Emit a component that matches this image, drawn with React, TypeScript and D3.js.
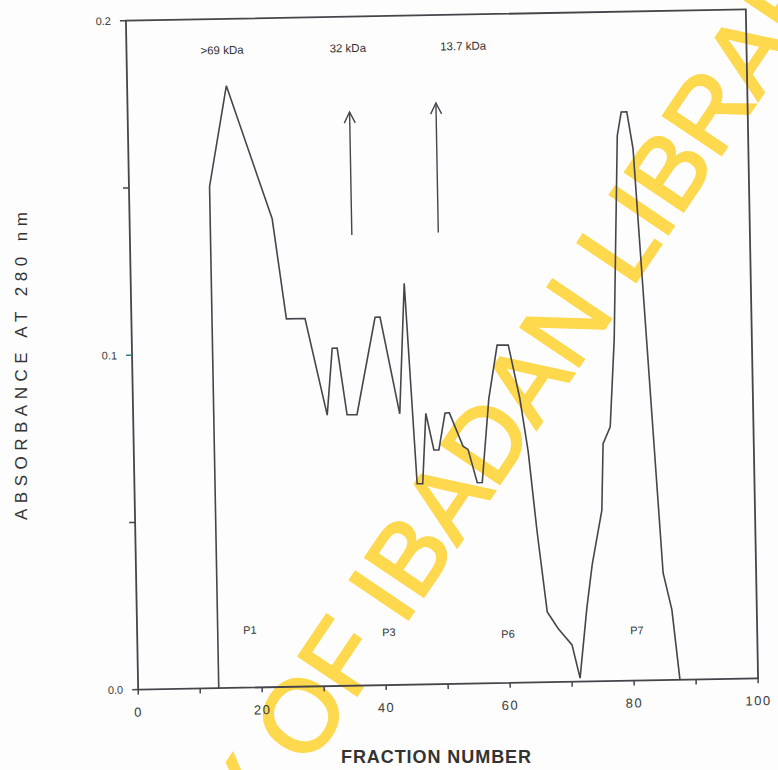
import React from "react";
import * as d3 from "d3";

// Elution profile (fraction number vs absorbance at 280 nm)
const fractions = [13, 13, 16, 23, 25, 28, 31.3, 32.3, 33.1, 34.5, 36.1, 39.3, 40.1, 43, 44.1, 45.6, 46.5, 47.2, 48.4, 49.2, 50.3, 51, 53.1, 53.9, 55.3, 56.1, 57.4, 58.9, 60.7, 62.4, 63.6, 64.8, 66.2, 67.9, 70.1, 71.3, 72.6, 73.6, 75.3, 75.7, 76.9, 77.8, 78.9, 79.6, 80.5, 81.4, 85, 86.3, 87.4];
const absorbance = [0, 0.15, 0.18, 0.14, 0.11, 0.11, 0.081, 0.101, 0.101, 0.081, 0.081, 0.11, 0.11, 0.081, 0.12, 0.06, 0.06, 0.081, 0.07, 0.07, 0.081, 0.081, 0.071, 0.07, 0.06, 0.06, 0.085, 0.101, 0.101, 0.085, 0.069, 0.045, 0.021, 0.016, 0.011, 0.001, 0.022, 0.035, 0.051, 0.071, 0.076, 0.102, 0.163, 0.17, 0.17, 0.159, 0.032, 0.021, 0];

const xTicks = [0, 10, 20, 30, 40, 50, 60, 70, 80, 90, 100];
const xTickLabels = ["0", "", "20", "", "40", "", "60", "", "80", "", "100"];
const yTicks = [0, 0.05, 0.1, 0.15, 0.2];
const yTickLabels = ["0.0", "", "0.1", "", "0.2"];

const markerLabels = [">69 kDa", "32 kDa", "13.7 kDa"];
const markerLabelX = [15.4, 35.7, 54.3];
const markerLabelY = [0.1907, 0.1906, 0.1906];
const arrowX = [35.8, 49.75];
const arrowFrom = [0.1347, 0.135];
const arrowTo = [0.1715, 0.1737];

const peakLabels = ["P1", "P3", "P6", "P7"];
const peakLabelX = [18.2, 40.6, 59.8, 80.6];
const peakLabelY = [0.0172, 0.0158, 0.0146, 0.015];

export default function App() {
  const W = 778, H = 770;
  const x = d3.scaleLinear().domain([0, 100]).range([132, 752]);
  const y = d3.scaleLinear().domain([0, 0.2]).range([684, 15]);
  const pts: [number, number][] = fractions.map((f, i) => [f, absorbance[i]]);
  const line = d3.line<[number, number]>().x(d => x(d[0])).y(d => y(d[1]));
  const ink = "#45454c";
  const font = "'Liberation Sans', Arial, sans-serif";

  return (
    <svg width={W} height={H} style={{ position: "absolute", left: 0, top: 0, background: "#fff" }}>
      <rect x={0} y={0} width={W} height={H} fill="#fdfdfd" />
      {/* watermark */}
      <g transform="translate(308,768) rotate(-56)" opacity={0.9} fontFamily={font} fontSize={102} fill="#FFD43B" stroke="#FFD43B" strokeWidth={2.5}>
        <text x={-28} y={0} textAnchor="end">UNIVERSITY</text>
        <text x={0} y={0} textAnchor="start">OF IBADAN LIBRARY</text>
      </g>
      <g transform="rotate(-1.05, 442, 350)">
        {/* frame */}
        <rect x={x(0)} y={y(0.2)} width={x(100) - x(0)} height={y(0) - y(0.2)} fill="none" stroke={ink} strokeWidth={1.8} />
        {/* x ticks */}
        {xTicks.map((t, i) => (
          <g key={"xt" + i}>
            <line x1={x(t)} x2={x(t)} y1={y(0)} y2={y(0) + 5} stroke={ink} strokeWidth={1.5} />
            {xTickLabels[i] && (
              <text x={x(t)} y={y(0) + 27} textAnchor="middle" fontFamily={font} fontSize={13} letterSpacing={1.5} fill="#3a3a3a">
                {xTickLabels[i]}
              </text>
            )}
          </g>
        ))}
        {/* y ticks */}
        {yTicks.map((t, i) => (
          <g key={"yt" + i}>
            <line x1={x(0) - 6} x2={x(0)} y1={y(t)} y2={y(t)} stroke={t === 0.1 ? "#2f7f86" : ink} strokeWidth={1.5} />
            {yTickLabels[i] && (
              <text x={x(0) - 15} y={y(t)} dy="0.35em" textAnchor="end" fontFamily={font} fontSize={11} fill="#3a3a3a">
                {yTickLabels[i]}
              </text>
            )}
          </g>
        ))}
        {/* curve */}
        <path d={line(pts) || ""} fill="none" stroke={ink} strokeWidth={1.6} strokeLinejoin="miter" />
        {/* marker labels */}
        {markerLabels.map((s, i) => (
          <text key={"ml" + i} x={x(markerLabelX[i])} y={y(markerLabelY[i])} dy="0.35em" textAnchor="middle" fontFamily={font} fontSize={11.5} fill="#333">
            {s}
          </text>
        ))}
        {/* arrows */}
        {arrowX.map((ax, i) => {
          const xt = x(ax), y0 = y(arrowFrom[i]), y1 = y(arrowTo[i]);
          return (
            <g key={"ar" + i} stroke={ink} strokeWidth={1.4} fill="none">
              <line x1={xt} x2={xt} y1={y0} y2={y1} />
              <path d={`M${xt - 5.5},${y1 + 11} L${xt},${y1} L${xt + 5.5},${y1 + 11}`} />
            </g>
          );
        })}
        {/* peak labels */}
        {peakLabels.map((s, i) => (
          <text key={"pl" + i} x={x(peakLabelX[i])} y={y(peakLabelY[i])} dy="0.35em" textAnchor="middle" fontFamily={font} fontSize={11} fill="#333">
            {s}
          </text>
        ))}
      </g>
      {/* axis titles */}
      <text x={436} y={757} dy="0.35em" textAnchor="middle" fontFamily={font} fontWeight="bold" fontSize={18} textLength={190} lengthAdjust="spacing" fill="#333">
        FRACTION NUMBER
      </text>
      <text transform="translate(21,366) rotate(-90)" textAnchor="middle" dy="0.35em" fontFamily={font} fontSize={17} textLength={308} lengthAdjust="spacing" fill="#333">
        ABSORBANCE AT 280 nm
      </text>
    </svg>
  );
}
